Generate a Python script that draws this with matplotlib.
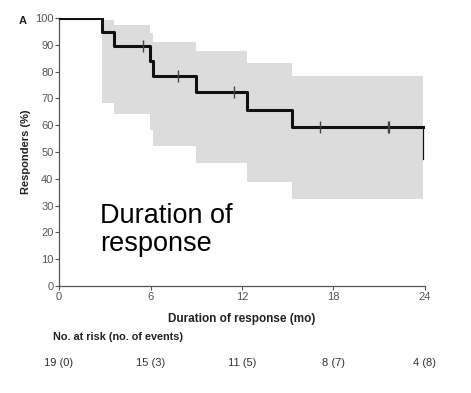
import matplotlib
matplotlib.use("Agg")
import matplotlib.pyplot as plt
import numpy as np

plt.rcParams['font.family'] = ['Liberation Sans', 'DejaVu Sans']

# Kaplan-Meier step curve (months, % responders)
km_time = [0, 2.8, 3.6, 5.97, 6.14, 9.0, 12.35, 15.26, 23.9]
km_surv = [100, 94.7, 89.5, 84.0, 78.4, 72.3, 65.8, 59.2, 59.2]

# confidence band
ci_time = [2.8, 3.6, 5.97, 6.14, 9.0, 12.35, 15.26, 23.9]
ci_upper = [99.3, 97.4, 94.5, 91.2, 87.6, 83.1, 78.4, 78.4]
ci_lower = [68.4, 64.3, 58.2, 52.2, 45.8, 38.8, 32.6, 32.6]

# censored observations
cens_time = [5.5, 7.8, 11.5, 17.1, 21.57, 21.67]
cens_surv = [89.5, 78.4, 72.3, 59.2, 59.2, 59.2]

xticks = [0, 6, 12, 18, 24]
at_risk = ['19 (0)', '15 (3)', '11 (5)', '8 (7)', '4 (8)']

fig = plt.figure(figsize=(4.71, 3.93), dpi=100)
ax = fig.add_axes([0.1253, 0.2723, 0.777, 0.682])

ax.fill_between(ci_time, ci_lower, ci_upper, step='post', color='#dcdcdc', lw=0, zorder=1)
ax.step(km_time, km_surv, where='post', color='#111111', lw=2.2, zorder=3)
ax.plot([23.9, 23.9], [59.2, 47.5], color='#111111', lw=0.9, zorder=3)
ax.plot(cens_time, cens_surv, ls='none', marker='|', ms=8, mew=1.0, color='#444444', zorder=4)

ax.set_xlim(0, 24)
ax.set_ylim(0, 100)
ax.set_xticks(xticks)
ax.set_yticks(np.arange(0, 101, 10))
for s in ['top', 'right']:
    ax.spines[s].set_visible(False)
for s in ['left', 'bottom']:
    ax.spines[s].set_color('#555555')
    ax.spines[s].set_linewidth(0.9)
ax.tick_params(colors='#555555', labelsize=8, length=3, width=0.8, pad=1)

ax.set_ylabel('Responders (%)', fontsize=8, fontweight='bold', color='#222222', labelpad=3)
ax.set_xlabel('Duration of response (mo)', fontsize=8.5, fontweight='bold', color='#222222', labelpad=8)

fig.text(0.040, 0.947, 'A', fontsize=8, fontweight='bold', color='#222222', va='center')
ax.text(2.69, 13, 'Duration of\nresponse', fontsize=19.5, color='black', va='baseline', ha='left',
        linespacing=1.12)

fig.text(0.113, 0.142, 'No. at risk (no. of events)', fontsize=7.8, fontweight='bold', color='#222222',
         va='center')
for xt, lab in zip(xticks, at_risk):
    ax.text(xt, -(363 - 286) / 268.0, lab, transform=ax.get_xaxis_transform(), fontsize=8,
            color='#333333', ha='center', va='center', clip_on=False)

fig.savefig('out.png', dpi=100)
